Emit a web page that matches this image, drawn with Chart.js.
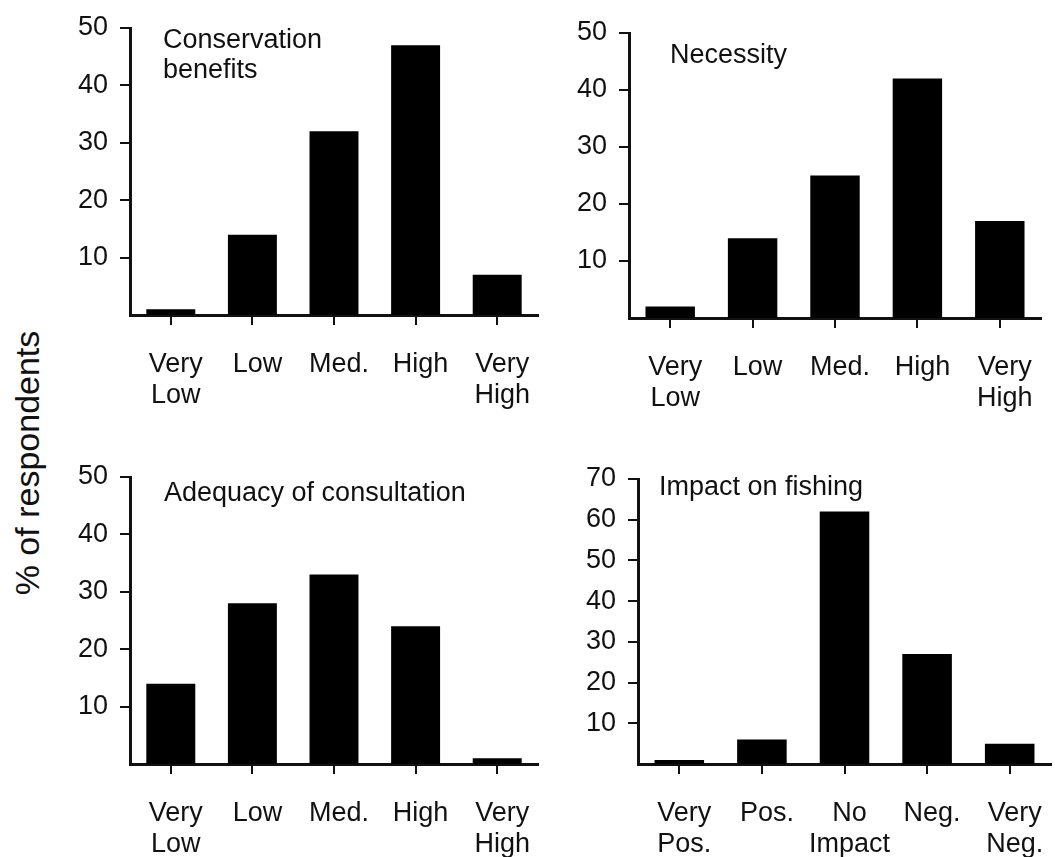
<!DOCTYPE html>
<html lang="en">
<head>
  <meta charset="UTF-8">
  <title>Perceptions of the marine reserve</title>
  <script src="https://cdn.jsdelivr.net/npm/chart.js"></script>
  <style>
    * { box-sizing:border-box; }
    body { margin:0; background:#fff; width:1055px; height:857px; overflow:hidden; position:relative;
           font-family:'Liberation Sans', Arial, sans-serif; }
    .panel { position:absolute; }
    #ylabel {
      position:absolute; width:400px; height:34px; line-height:34px;
      left:-173px; top:446px; text-align:center; font-size:34px; color:#111;
      transform:rotate(-90deg); transform-origin:center; white-space:nowrap;
    }
  </style>
</head>
<body>

<div id="ylabel">% of respondents</div>
<canvas id="chartConservation" class="panel"></canvas>
<canvas id="chartNecessity" class="panel"></canvas>
<canvas id="chartConsultation" class="panel"></canvas>
<canvas id="chartImpact" class="panel"></canvas>

<script>
  // categories
  const ratingLabels = [['Very','Low'], 'Low', 'Med.', 'High', ['Very','High']];
  const impactLabels = [['Very','Pos.'], 'Pos.', ['No','Impact'], 'Neg.', ['Very','Neg.']];

  // % of respondents per category
  const conservationValues = [1, 14, 32, 47, 7];
  const necessityValues    = [2, 14, 25, 42, 17];
  const consultationValues = [14, 28, 33, 24, 1];
  const impactValues       = [1, 6, 62, 27, 5];

  // y tick labels
  const ticks50 = [10, 20, 30, 40, 50];
  const ticks70 = [10, 20, 30, 40, 50, 60, 70];

  const FONT = "'Liberation Sans', Arial, sans-serif";
  const INK = '#111';

  // title written inside the plot area, top left
  const panelTitle = {
    id: 'panelTitle',
    afterDraw(chart, args, opts) {
      const { ctx, chartArea } = chart;
      ctx.save();
      ctx.font = `27px ${FONT}`;
      ctx.fillStyle = INK;
      ctx.textBaseline = 'alphabetic';
      opts.lines.forEach((t, i) => {
        ctx.fillText(t, chartArea.left + opts.dx, chartArea.top + opts.dy + i * 30);
      });
      ctx.restore();
    }
  };

  const YW = 70, PADTOP = 30, XH = 95, PADRIGHT = 16;

  // box = plot area in page pixels
  function makePanel(id, labels, values, yMax, yTicks, box, title) {
    const canvas = document.getElementById(id);
    const left = Math.round(box.left - YW);
    const top = Math.round(box.top - PADTOP);
    const w = Math.round(box.right - left + PADRIGHT);
    const h = Math.round(box.bottom - box.top) + PADTOP + XH;
    canvas.style.left = left + 'px';
    canvas.style.top = top + 'px';
    canvas.width = w; canvas.height = h;
    canvas.style.width = w + 'px'; canvas.style.height = h + 'px';

    new Chart(canvas, {
      type: 'bar',
      data: {
        labels,
        datasets: [{
          data: values,
          backgroundColor: '#000',
          borderWidth: 0,
          barPercentage: 0.6,
          categoryPercentage: 1
        }]
      },
      options: {
        responsive: false,
        animation: false,
        layout: { padding: { top: PADTOP, right: PADRIGHT, left: 0, bottom: 0 } },
        plugins: {
          legend: { display: false },
          tooltip: { enabled: false },
          panelTitle: title
        },
        scales: {
          x: {
            afterFit: s => { s.height = XH; },
            grid: { offset: false, drawOnChartArea: false, tickLength: 10, lineWidth: 2, color: INK },
            border: { color: INK, width: 3 },
            ticks: { color: INK, font: { family: FONT, size: 27, lineHeight: 1.15 },
                     padding: 24, labelOffset: 5, maxRotation: 0, autoSkip: false }
          },
          y: {
            min: 0, max: yMax,
            afterFit: s => { s.width = YW; },
            afterBuildTicks: s => { s.ticks = yTicks.map(v => ({ value: v })); },
            grid: { drawOnChartArea: false, tickLength: 10, lineWidth: 2, color: INK },
            border: { color: INK, width: 3 },
            ticks: { color: INK, font: { family: FONT, size: 27 }, padding: 12 }
          }
        }
      },
      plugins: [panelTitle]
    });
  }

  makePanel('chartConservation', ratingLabels, conservationValues, 50, ticks50,
    { left: 130, top: 28, bottom: 315, right: 538 },
    { lines: ['Conservation', 'benefits'], dx: 33, dy: 20 });

  makePanel('chartNecessity', ratingLabels, necessityValues, 50, ticks50,
    { left: 629, top: 33, bottom: 318, right: 1041 },
    { lines: ['Necessity'], dx: 41, dy: 30 });

  makePanel('chartConsultation', ratingLabels, consultationValues, 50, ticks50,
    { left: 130, top: 477, bottom: 764, right: 538 },
    { lines: ['Adequacy of consultation'], dx: 34, dy: 24 });

  makePanel('chartImpact', impactLabels, impactValues, 70, ticks70,
    { left: 638, top: 479, bottom: 764, right: 1051 },
    { lines: ['Impact on fishing'], dx: 21, dy: 16 });
</script>
</body>
</html>
